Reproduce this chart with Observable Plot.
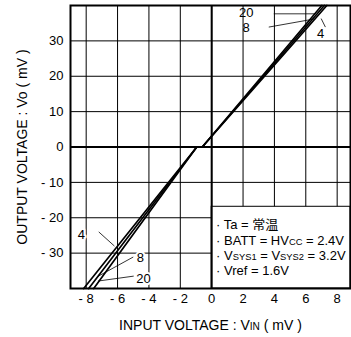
<!DOCTYPE html>
<html>
<head>
<meta charset="utf-8">
<script src="https://cdn.jsdelivr.net/npm/d3@7"></script>
<script src="https://cdn.jsdelivr.net/npm/@observablehq/plot@0.6"></script>
<style>
  html, body { margin: 0; padding: 0; background: #fff; }
</style>
</head>
<body>
<div id="chart"></div>
<script>
// ---- data ----
const xTicks = [-8, -6, -4, -2, 0, 2, 4, 6, 8];
const yTicks = [-30, -20, -10, 0, 10, 20, 30];
const seriesNames = ["4", "8", "20"];
// output voltage levels (mV) at which the input voltage was read
const vout  = [-40, 0, 0, 40];
const vin4  = [-8.16, -0.95, -0.6, 7.34];
const vin8  = [-7.84, -0.95, -0.6, 7.18];
const vin20 = [-7.52, -0.95, -0.6, 7.02];
const legendLines = ["Ta = 常温", "BATT = HV{CC} = 2.4V", "V{SYS1} = V{SYS2} = 3.2V", "Vref = 1.6V"];
const xTitle = "INPUT VOLTAGE : V{IN} ( mV )";
const yTitle = "OUTPUT VOLTAGE : Vo ( mV )";

// ---- build tables ----
const vinBySeries = {"4": vin4, "8": vin8, "20": vin20};
const curves = seriesNames.flatMap(s => vinBySeries[s].map((v, i) => ({series: s, vin: v, vout: vout[i]})));

// annotation layout (data coordinates)
const labels = [
  {t: "20", x: 2.2, y: 37.8, a: "start", h: 0},
  {t: "8",  x: 2.2, y: 33.7, a: "start", h: 0},
  {t: "4",  x: 6.94, y: 31.9, a: "middle", h: 0},
  {t: "4",  x: -8.30, y: -24.7, a: "middle", h: 4},
  {t: "8",  x: -4.54, y: -31.2, a: "middle", h: 4},
  {t: "20", x: -4.35, y: -37.2, a: "middle", h: 4}
];
const leaders = [
  {x1: 3.96, y1: 37.65, x2: 6.62, y2: 37.65},
  {x1: 3.64, y1: 33.9, x2: 6.55, y2: 36.2},
  {x1: 6.98, y1: 36.3, x2: 7.25, y2: 33.9},
  {x1: -7.20, y1: -24.0, x2: -6.20, y2: -28.0},
  {x1: -5.00, y1: -31.1, x2: -7.30, y2: -36.7},
  {x1: -4.97, y1: -36.5, x2: -7.25, y2: -37.9}
];
const legendBox = [{x1: 0, x2: 8.85, y1: -40, y2: -16.9}];

const fmt = d => d < 0 ? "- " + Math.abs(d) : String(d);
const FONT = "'Liberation Sans', Arial, 'Noto Sans CJK JP', sans-serif";

const chart = Plot.plot({
  width: 351,
  height: 337,
  marginLeft: 70,
  marginRight: 1,
  marginTop: 5,
  marginBottom: 49,
  style: {fontFamily: FONT, fontSize: "13px", background: "#fff", color: "#000"},
  x: {domain: [-9, 8.85]},
  y: {domain: [-40, 40]},
  marks: [
    Plot.gridX(xTicks, {stroke: "#000", strokeOpacity: 1, strokeWidth: 1}),
    Plot.gridY(yTicks, {stroke: "#000", strokeOpacity: 1, strokeWidth: 1}),
    Plot.rect(legendBox, {x1: "x1", x2: "x2", y1: "y1", y2: "y2", fill: "#fff", stroke: "#000", strokeWidth: 1}),
    Plot.ruleX([0], {stroke: "#000", strokeWidth: 2}),
    Plot.ruleY([0], {stroke: "#000", strokeWidth: 2}),
    Plot.link(leaders, {x1: "x1", y1: "y1", x2: "x2", y2: "y2", stroke: "#000", strokeWidth: 0.8}),
    Plot.line(curves, {x: "vin", y: "vout", z: "series", stroke: "#000", strokeWidth: 1.7}),
    Plot.text(labels.filter(d => d.h), {x: "x", y: "y", text: "t", textAnchor: "middle", fontSize: 13, fill: "#000", stroke: "#fff", strokeWidth: 4}),
    Plot.text(labels.filter(d => !d.h), {x: "x", y: "y", text: "t", textAnchor: d => d.a, fontSize: 13, fill: "#000"}),
    Plot.text(legendLines, {x: () => 0.28, y: (d, i) => -22.13 - i * 4.32, text: d => "· " + d, textAnchor: "start", fontSize: 13, fill: "#000"}),
    Plot.frame({stroke: "#000", strokeWidth: 2}),
    Plot.axisX(xTicks, {tickSize: 0, tickPadding: 5, tickFormat: fmt, label: null, fontSize: 13}),
    Plot.axisY(yTicks, {tickSize: 0, tickPadding: 7, tickFormat: fmt, label: null, fontSize: 13}),
    Plot.text([xTitle], {frameAnchor: "bottom", dy: 37, lineAnchor: "middle", textAnchor: "middle", fontSize: 14, fill: "#000"}),
    Plot.text([yTitle], {frameAnchor: "left", dx: -48, rotate: -90, lineAnchor: "middle", textAnchor: "middle", fontSize: 14, fill: "#000"})
  ]
});

function richify(root) {
  root.querySelectorAll("text").forEach(t => {
    const s = t.textContent;
    if (!s.includes("{")) return;
    while (t.firstChild) t.removeChild(t.firstChild);
    s.split(/(\{[^}]*\})/).forEach(part => {
      if (!part) return;
      const ts = document.createElementNS("http://www.w3.org/2000/svg", "tspan");
      if (part.startsWith("{")) {
        ts.setAttribute("font-size", "0.72em");
        ts.textContent = part.slice(1, -1);
      } else {
        ts.textContent = part;
      }
      t.appendChild(ts);
    });
  });
}
richify(chart);
document.getElementById("chart").appendChild(chart);
</script>
</body>
</html>
